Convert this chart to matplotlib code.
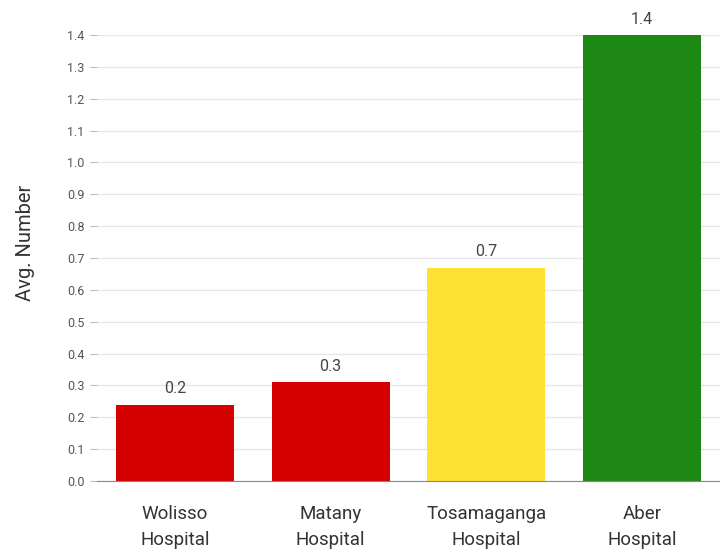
import matplotlib
matplotlib.use("Agg")
import matplotlib.pyplot as plt
import numpy as np

hospitals = ["Wolisso\nHospital", "Matany\nHospital", "Tosamaganga\nHospital", "Aber\nHospital"]
avg_number = [0.24, 0.31, 0.67, 1.4]
bar_labels = ["0.2", "0.3", "0.7", "1.4"]
bar_colors = ["#d50000", "#d50000", "#ffe135", "#1e8914"]
y_ticks = [0.0, 0.1, 0.2, 0.3, 0.4, 0.5, 0.6, 0.7, 0.8, 0.9, 1.0, 1.1, 1.2, 1.3, 1.4]

plt.rcParams['font.family'] = ['Roboto', 'DejaVu Sans']

fig = plt.figure(figsize=(7.2, 5.49), dpi=100)
ax = fig.add_axes([0.1347, 0.1239, 0.8653, 0.8123])

x = np.arange(len(hospitals))
bars = ax.bar(x, avg_number, width=0.757, color=bar_colors, zorder=3)

for b, lab in zip(bars, bar_labels):
    ax.annotate(lab, (b.get_x() + b.get_width() / 2, b.get_height()),
                xytext=(0, 6), textcoords="offset points",
                ha="center", va="bottom", fontsize=11.5, color="#444444")

ax.set_xlim(-0.5, len(hospitals) - 0.5)
ax.set_ylim(0, 1.4)
ax.set_yticks(y_ticks)
ax.set_yticklabels([f"{v:.1f}" for v in y_ticks])
ax.set_xticks(x)
ax.set_xticklabels(hospitals, fontsize=13.5, color="#333333", linespacing=1.6)

ax.grid(axis="y", color="#e6e6e6", linewidth=1, zorder=0)
for s in ["top", "right", "left"]:
    ax.spines[s].set_visible(False)
ax.spines["bottom"].set_color("#888888")
ax.spines["bottom"].set_zorder(4)

ax.tick_params(axis="y", length=5, color="#bbbbbb", labelsize=9, labelcolor="#555555", pad=4)
ax.tick_params(axis="x", length=0, pad=17)

ax.set_ylabel("Avg. Number", fontsize=14.5, color="#333333")
ax.yaxis.set_label_coords(-0.1, 0.533)

fig.savefig("out.png", dpi=100)
